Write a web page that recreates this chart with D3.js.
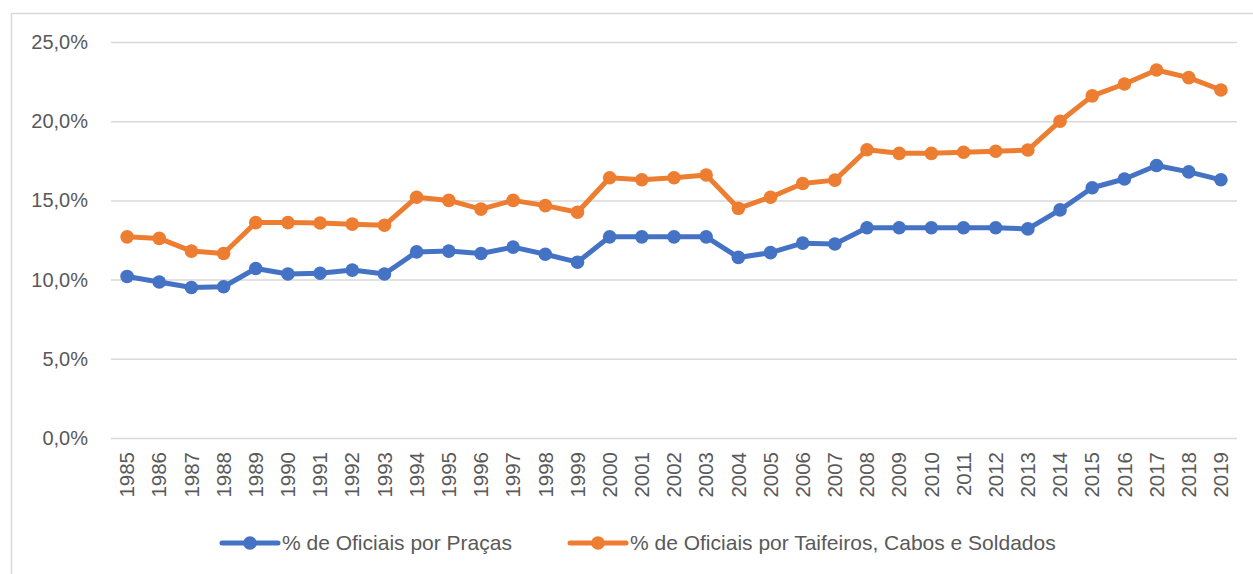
<!DOCTYPE html>
<html><head><meta charset="utf-8">
<script src="https://cdn.jsdelivr.net/npm/d3@7"></script>
<style>body{margin:0;background:#fff}svg{display:block}text{font-family:"Liberation Sans",Arial,sans-serif;fill:#595959}</style>
</head><body><svg id="c" width="1253" height="574"></svg>
<script>
const years = ["1985","1986","1987","1988","1989","1990","1991","1992","1993","1994","1995","1996","1997","1998","1999","2000","2001","2002","2003","2004","2005","2006","2007","2008","2009","2010","2011","2012","2013","2014","2015","2016","2017","2018","2019"];
const pracas = [10.2,9.85,9.5,9.55,10.7,10.35,10.4,10.6,10.35,11.75,11.8,11.65,12.05,11.6,11.1,12.7,12.7,12.7,12.7,11.4,11.7,12.3,12.25,13.27,13.27,13.27,13.27,13.27,13.2,14.4,15.8,16.35,17.2,16.8,16.3];
const taifeiros = [12.7,12.6,11.8,11.65,13.6,13.6,13.57,13.5,13.43,15.2,15.0,14.45,15.0,14.67,14.25,16.43,16.3,16.43,16.6,14.5,15.2,16.07,16.28,18.2,17.97,17.97,18.04,18.1,18.18,20.0,21.6,22.35,23.23,22.75,21.97];
const yTicks = [0,5,10,15,20,25];
const seriesNames = ["% de Oficiais por Praças","% de Oficiais por Taifeiros, Cabos e Soldados"];
const colors = ["#4472C4","#ED7D31"];

const svg = d3.select("#c");
svg.append("rect").attr("x",11.5).attr("y",13.5).attr("width",1250).attr("height",570).attr("fill","none").attr("stroke","#d9d9d9").attr("stroke-width",1.5);

const x = d3.scaleBand().domain(years).range([111,1237]);
const y = d3.scaleLinear().domain([0,25]).range([438,42]);
const fmt = v => d3.format(".1f")(v).replace(".",",")+"%";

const gy = svg.append("g").attr("transform","translate(111,0)")
  .call(d3.axisLeft(y).tickValues(yTicks).tickSize(-1126).tickFormat(fmt).tickPadding(23));
gy.select(".domain").remove();
gy.selectAll(".tick line").attr("stroke","#d9d9d9").attr("stroke-width",1.5);
gy.selectAll(".tick text").attr("font-size",20).style("fill","#595959").attr("font-family","Liberation Sans, Arial, sans-serif");

const gx = svg.append("g").attr("transform","translate(0,438)")
  .call(d3.axisBottom(x).tickSize(0).tickPadding(0));
gx.select(".domain").remove();
gx.selectAll(".tick text").attr("font-size",20.5).attr("transform","rotate(-90)")
  .attr("x",-14).attr("y",0).attr("dy","0.35em").attr("text-anchor","end")
  .style("fill","#595959").attr("font-family","Liberation Sans, Arial, sans-serif");

const data = [pracas, taifeiros];
const line = d3.line().x((d,i)=>x(years[i])+x.bandwidth()/2).y(d=>y(d));
data.forEach((s,k)=>{
  svg.append("path").datum(s).attr("d",line).attr("fill","none").attr("stroke",colors[k]).attr("stroke-width",5).attr("stroke-linejoin","round");
  svg.append("g").selectAll("circle").data(s).join("circle")
    .attr("cx",(d,i)=>x(years[i])+x.bandwidth()/2).attr("cy",d=>y(d)).attr("r",6.8).attr("fill",colors[k]);
});

const legX = [222,570];
const leg = svg.append("g");
seriesNames.forEach((n,k)=>{
  const g = leg.append("g").attr("transform",`translate(${legX[k]},543)`);
  g.append("line").attr("x1",0).attr("x2",56).attr("stroke",colors[k]).attr("stroke-width",5).attr("stroke-linecap","round");
  g.append("circle").attr("cx",28).attr("r",6.8).attr("fill",colors[k]);
  g.append("text").attr("x",60).attr("dy","0.35em").attr("font-size",21).text(n);
});
</script></body></html>
